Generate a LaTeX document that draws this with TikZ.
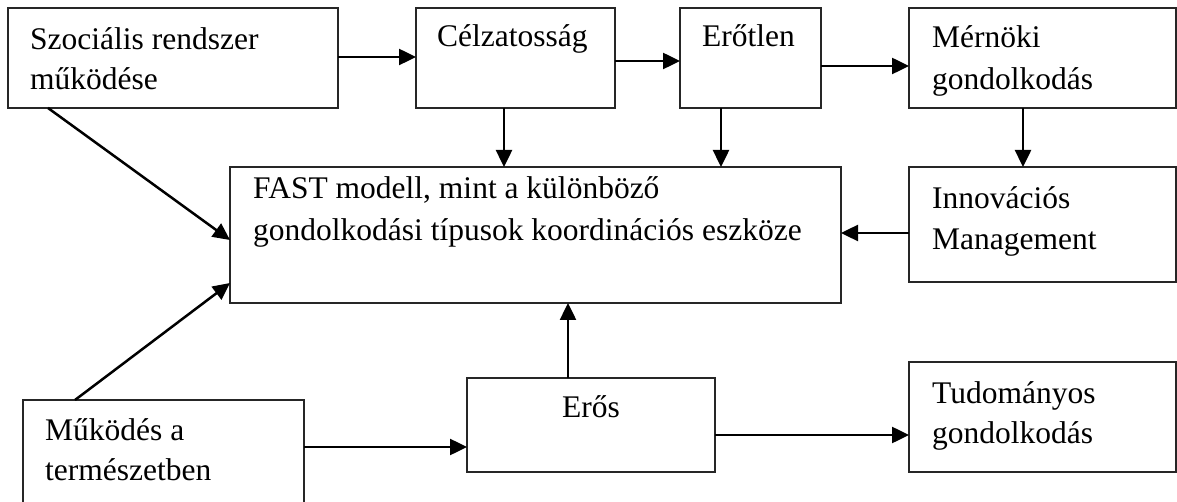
\documentclass[tikz,border=0pt]{standalone}
\usepackage{fontspec}
\setmainfont{Liberation Serif}
\usetikzlibrary{arrows.meta}
\begin{document}
\begin{tikzpicture}[x=1pt,y=-1pt,
  box/.style={draw=black!85,line width=1.2pt,inner sep=0pt,outer sep=0pt,anchor=north west},
  lbl/.style={anchor=base west,inner sep=0pt,font=\fontsize{31.5}{42}\selectfont},
  arr/.style={line width=2.5pt,-{Triangle[length=17pt,width=16pt]}}]
\useasboundingbox (0,0) rectangle (1177,502);
\clip (0,0) rectangle (1177,502);
\fill[white] (0,0) rectangle (1177,502);
% boxes
\node[box,minimum width=330pt,minimum height=100pt] (soc) at (8,8) {};
\node[box,minimum width=199pt,minimum height=100pt] (cel) at (416,8) {};
\node[box,minimum width=141pt,minimum height=100pt] (ero) at (680,8) {};
\node[box,minimum width=267pt,minimum height=100pt] (mer) at (909,8) {};
\node[box,minimum width=611pt,minimum height=136pt] (fast) at (230,167) {};
\node[box,minimum width=267pt,minimum height=115pt] (inn) at (909,167) {};
\node[box,minimum width=281pt,minimum height=112pt] (muk) at (23,400) {};
\node[box,minimum width=248pt,minimum height=94pt] (eros) at (467,378) {};
\node[box,minimum width=267pt,minimum height=110pt] (tud) at (909,362) {};
% texts
\node[lbl] (soc1) at (30,50) {Szociális rendszer};
\node[lbl] (soc2) at (30,90) {működése};
\node[lbl] (celt) at (437,47) {Célzatosság};
\node[lbl] (erot) at (702,47) {Erőtlen};
\node[lbl] (mer1) at (932,48) {Mérnöki};
\node[lbl] (mer2) at (932,90) {gondolkodás};
\node[lbl] (fast1) at (253,199) {FAST modell, mint a különböző};
\node[lbl] (fast2) at (253,241) {gondolkodási típusok koordinációs eszköze};
\node[lbl] (inn1) at (932,209) {Innovációs};
\node[lbl] (inn2) at (932,250) {Management};
\node[lbl] (muk1) at (45,440) {Működés a};
\node[lbl] (muk2) at (45,480) {természetben};
\node[lbl] (erost) at (562,417) {Erős};
\node[lbl] (tud1) at (932,403) {Tudományos};
\node[lbl] (tud2) at (932,443) {gondolkodás};
% connectors
\draw[arr] (soc.east |- 0,57) -- (cel.west |- 0,57);
\draw[arr] (cel.east |- 0,61) -- (ero.west |- 0,61);
\draw[arr] (ero.east |- 0,66) -- (mer.west |- 0,66);
\draw[arr] (soc.south -| 48,0) -- (fast.west |- 0,240);
\draw[arr] (muk.north -| 75,0) -- (fast.west |- 0,283);
\draw[arr] (cel.south -| 504,0) -- (fast.north -| 504,0);
\draw[arr] (ero.south -| 721,0) -- (fast.north -| 721,0);
\draw[arr] (mer.south -| 1023,0) -- (inn.north -| 1023,0);
\draw[arr] (inn.west |- 0,233) -- (fast.east |- 0,233);
\draw[arr] (eros.north -| 568,0) -- (fast.south -| 568,0);
\draw[arr] (muk.east |- 0,447) -- (eros.west |- 0,447);
\draw[arr] (eros.east |- 0,435) -- (tud.west |- 0,435);
\end{tikzpicture}
\end{document}
